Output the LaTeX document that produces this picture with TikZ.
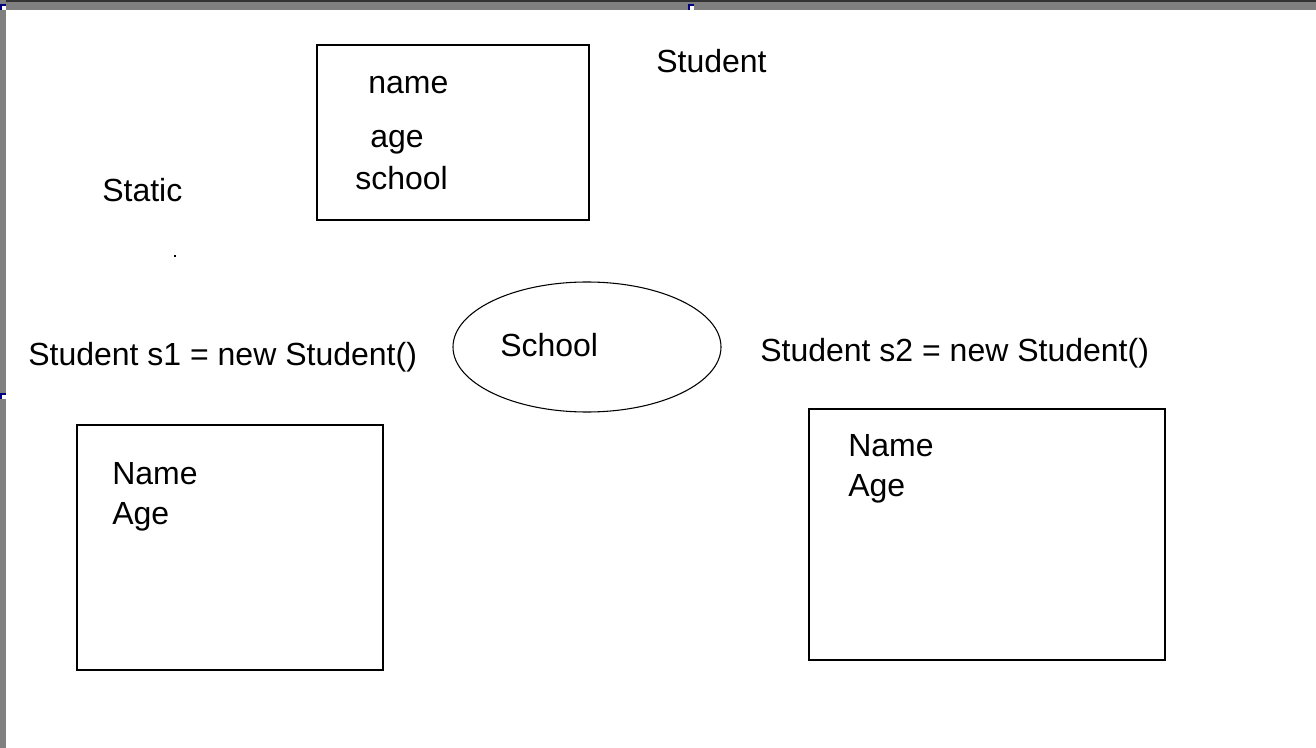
\documentclass[tikz,border=0pt]{standalone}
\usepackage{fontspec}
\setmainfont{Liberation Sans}
\definecolor{barGray}{HTML}{808080}
\definecolor{barDark}{HTML}{333333}
\definecolor{mark}{HTML}{000080}
\begin{document}
\begin{tikzpicture}[x=0.75pt,y=-0.75pt,
  lbl/.style={anchor=base west,inner sep=0pt,font=\fontsize{24}{28}\selectfont},
  boxshape/.style={draw=black,line width=0.9pt},
  markbox/.style={fill=mark}]
\useasboundingbox (0,0) rectangle (1316,748);
\fill[white] (0,0) rectangle (1316,748);
% window frame bars
\fill[barGray] (0,0) rectangle (1316,10);
\fill[barDark] (0,0) rectangle (1316,2);
\fill[barGray] (0,0) rectangle (5.5,748);
% small markers
\fill[markbox] (0,4) rectangle (6,10);
\fill[white] (2,6) rectangle (6,10);
\fill[markbox] (688,4) rectangle (694,10);
\fill[white] (690,6) rectangle (694,10);
\fill[markbox] (0,393) rectangle (6,399);
\fill[white] (2,395) rectangle (6,399);
% boxes
\draw[boxshape] (317,45) rectangle (589,220);
\coordinate (clsbox) at (453,132);
\draw[boxshape] (77,425) rectangle (383,670);
\coordinate (s1box) at (230,547);
\draw[boxshape] (809,409) rectangle (1165,660);
\coordinate (s2box) at (987,534);
% ellipse
\draw[line width=0.8pt] (587,347) ellipse [x radius=134, y radius=65];
% dot
\fill[black] (174,255) rectangle (176,257);
% labels
\node[lbl] (student) at (656,73) {Student};
\node[lbl] (name) at (368,94) {name};
\node[lbl] (age) at (370,148) {age};
\node[lbl] (school) at (355,190) {school};
\node[lbl] (static) at (102,202) {Static};
\node[lbl] (s1) at (28,365) {Student s1 = new Student()};
\node[lbl] (schoolE) at (500,356) {School};
\node[lbl] (s2) at (760,361) {Student s2 = new Student()};
\node[lbl] (name1) at (112,484) {Name};
\node[lbl] (age1) at (112,524) {Age};
\node[lbl] (name2) at (848,456) {Name};
\node[lbl] (age2) at (848,496) {Age};
\end{tikzpicture}
\end{document}
